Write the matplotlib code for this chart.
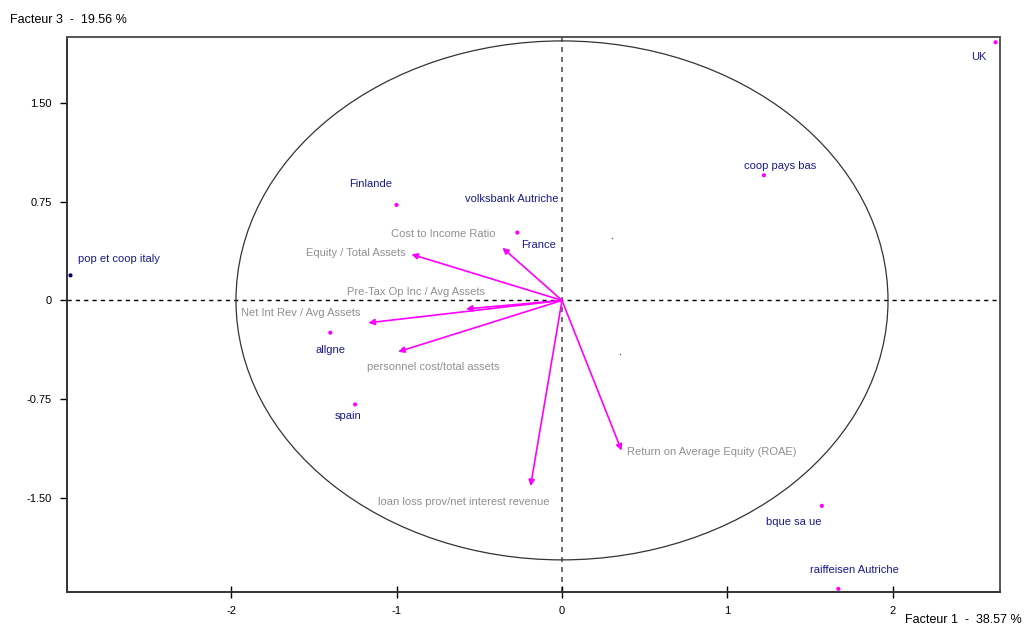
import numpy as np
import matplotlib.pyplot as plt
from matplotlib.patches import Ellipse

plt.rcParams['font.family'] = ['Liberation Sans', 'DejaVu Sans']
plt.rcParams['font.size'] = 8

# variables (arrows from the origin)
var_names = ["Cost to Income Ratio", "Equity / Total Assets", "Pre-Tax Op Inc / Avg Assets",
             "Net Int Rev / Avg Assets", "personnel cost/total assets",
             "Return on Average Equity (ROAE)", "loan loss prov/net interest revenue"]
var_x = [-0.36, -0.91, -0.58, -1.17, -0.99, 0.36, -0.19]
var_y = [0.40, 0.35, -0.065, -0.17, -0.39, -1.14, -1.41]

# individuals
ind_names = ["UK", "coop pays bas", "Finlande", "France", "pop et coop italy",
             "allgne", "spain", "bque sa ue", "raiffeisen Autriche"]
ind_x = [2.62, 1.22, -1.0, -0.27, -2.97, -1.40, -1.25, 1.57, 1.67]
ind_y = [1.96, 0.95, 0.725, 0.515, 0.19, -0.245, -0.79, -1.56, -2.19]

extra_label = "volksbank Autriche"
extra_x, extra_y = -0.586, 0.77
tiny_x = [0.30, 0.35]
tiny_y = [0.47, -0.41]

circle_r = 1.97

# label offsets in pixels and alignment
var_off = [(-7, 14, 'right'), (-6, 1, 'right'), (19, 17, 'right'), (-8, 10, 'right'),
           (-31, -15, 'left'), (5, -1, 'left'), (19, -16, 'right')]
ind_off = [(-9, -15, 'right'), (-20, 9, 'left'), (-26, 21, 'center'), (4, -12, 'left'),
           (7, 16, 'left'), (0, -17, 'center'), (-7, -12, 'center'), (0, -16, 'right'),
           (16, 19, 'center')]

fig = plt.figure(figsize=(10.28, 6.30), dpi=100)
ax = fig.add_axes([0.0652, 0.0603, 0.9076, 0.881])
ax.set_xlim(-2.991, 2.647)
ax.set_ylim(-2.214, 2.0)

ax.axhline(0, color='black', lw=1, ls=(0, (3, 3)), zorder=1)
ax.axvline(0, color='#555555', lw=1.2, ls=(0, (3, 3)), zorder=1)
ax.add_patch(Ellipse((0, 0), 2 * circle_r, 2 * circle_r, fill=False,
                     ec='#333333', lw=0.9, zorder=1))

for name, x, y, (dx, dy, ha) in zip(var_names, var_x, var_y, var_off):
    ax.annotate('', xy=(x, y), xytext=(0, 0),
                arrowprops=dict(arrowstyle='-|>', color='#ff00ff', lw=1.2,
                                mutation_scale=9, shrinkA=0, shrinkB=0))
    ax.annotate(name, xy=(x, y), xytext=(dx, dy), textcoords='offset pixels',
                ha=ha, va='center', color='#909090', fontsize=8)

colors = ['#ff00ff'] * len(ind_x)
colors[4] = '#000060'
ax.scatter(ind_x, ind_y, s=9, c=colors, zorder=3, linewidths=0)
for name, x, y, (dx, dy, ha) in zip(ind_names, ind_x, ind_y, ind_off):
    ax.annotate(name, xy=(x, y), xytext=(dx, dy), textcoords='offset pixels',
                ha=ha, va='center', color='#1a1a8c', fontsize=8)
ax.text(extra_x, extra_y, extra_label, ha='left', va='center', color='#1a1a8c', fontsize=8)
ax.scatter(tiny_x, tiny_y, s=1, c='#555555', linewidths=0)

ax.set_xticks([-2, -1, 0, 1, 2])
ax.set_xticklabels(['-2', '-1', '0', '1', '2'])
ax.set_yticks([1.5, 0.75, 0, -0.75, -1.5])
ax.set_yticklabels(['1.50', '0.75', '0', '-0.75', '-1.50'])
ax.tick_params(axis='x', direction='inout', length=8, width=1, pad=6)
ax.tick_params(axis='y', direction='out', length=5, width=1, pad=6)
for side in ['left', 'bottom']:
    ax.spines[side].set_color('#333333')
    ax.spines[side].set_linewidth(1.4)
for side in ['top', 'right']:
    ax.spines[side].set_color('#555555')
    ax.spines[side].set_linewidth(1.4)

fig.text(10 / 1028, 1 - 20 / 630, "Facteur 3  -  19.56 %", ha='left', va='center', fontsize=9)
fig.text(1022 / 1028, 1 - 620 / 630, "Facteur 1  -  38.57 %", ha='right', va='center', fontsize=9)

fig.savefig('out.png', dpi=100)
